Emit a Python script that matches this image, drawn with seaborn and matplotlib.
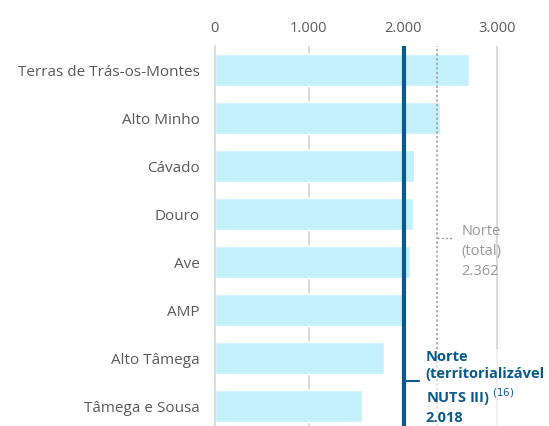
import matplotlib
matplotlib.use('Agg')
import matplotlib.pyplot as plt
import seaborn as sns
import pandas as pd
from matplotlib.ticker import FixedLocator

# dados (NUTS III do Norte)
regioes = ['Terras de Trás-os-Montes', 'Alto Minho', 'Cávado', 'Douro',
           'Ave', 'AMP', 'Alto Tâmega', 'Tâmega e Sousa']
valores = [2708, 2397, 2120, 2108, 2077, 2010, 1797, 1564]
norte_total = 2362
norte_nuts = 2018
x_ticks = [0, 1000, 2000, 3000]
x_tick_labels = ['0', '1.000', '2.000', '3.000']

sns.set_style('white')
plt.rcParams['font.family'] = ['Open Sans', 'DejaVu Sans']

grey_txt = '#5a5a5a'
blue = '#0b5a8c'

fig = plt.figure(figsize=(5.49, 4.26), dpi=100)
ax = fig.add_axes([0.391, -0.0094, 0.5995, 0.901])

df = pd.DataFrame({'regiao': regioes, 'valor': valores})
sns.barplot(data=df, x='valor', y='regiao', color='#c4f0fc', saturation=1,
            width=0.667, ax=ax, zorder=2)

ax.set_xlim(0, 3500)
ax.set_ylim(len(regioes) - 0.5, -0.5)

# grid vertical
for t in x_ticks[1:]:
    ax.axvline(t, color='#d9d9d9', lw=1.3, zorder=1)

# linhas de referência
ax.axvline(norte_total, color='#9a9a9a', lw=1.1, ls=(0, (1.5, 1.5)), zorder=3)
ax.axvline(norte_nuts, color=blue, lw=3, zorder=4)

# eixo x no topo
ax.xaxis.tick_top()
ax.set_xticks(x_ticks)
ax.set_xticklabels(x_tick_labels)
ax.tick_params(axis='x', length=0, pad=7.5, labelsize=10.5, labelcolor=grey_txt)
ax.set_xlabel('')
ax.set_ylabel('')

# eixo y: labels centrados, ticks nas fronteiras
ax.tick_params(axis='y', which='major', length=0, pad=11, labelsize=11,
               labelcolor=grey_txt)
ax.yaxis.set_minor_locator(FixedLocator([i - 0.5 for i in range(len(regioes) + 1)]))
ax.tick_params(axis='y', which='minor', length=4, width=1, color='#d9d9d9')

for s in ['top', 'right', 'bottom']:
    ax.spines[s].set_visible(False)
ax.spines['left'].set_color('#d9d9d9')
ax.spines['left'].set_linewidth(1.3)

# anotações
ax.plot([norte_total, norte_total + 160], [3.5, 3.5], color='#9a9a9a',
        lw=1, ls=(0, (1.5, 1.5)), zorder=3)
ax.text(norte_total + 260, 3.78, 'Norte\n(total)\n2.362', color='#9a9a9a',
        fontsize=10.5, va='center', ha='left', linespacing=1.45, zorder=5)

ax.plot([norte_nuts, norte_nuts + 150], [6.48, 6.48], color=blue, lw=1.5, zorder=4)
ax.text(norte_nuts + 225, 6.62,
        'Norte\n(territorializável\nNUTS III) $^{(16)}$\n2.018',
        color=blue, fontsize=10.5, fontweight='bold', va='center', ha='left',
        linespacing=1.3, zorder=5,
        bbox=dict(facecolor='white', edgecolor='none', alpha=0.6, pad=1))

fig.savefig('out.png', dpi=100)
